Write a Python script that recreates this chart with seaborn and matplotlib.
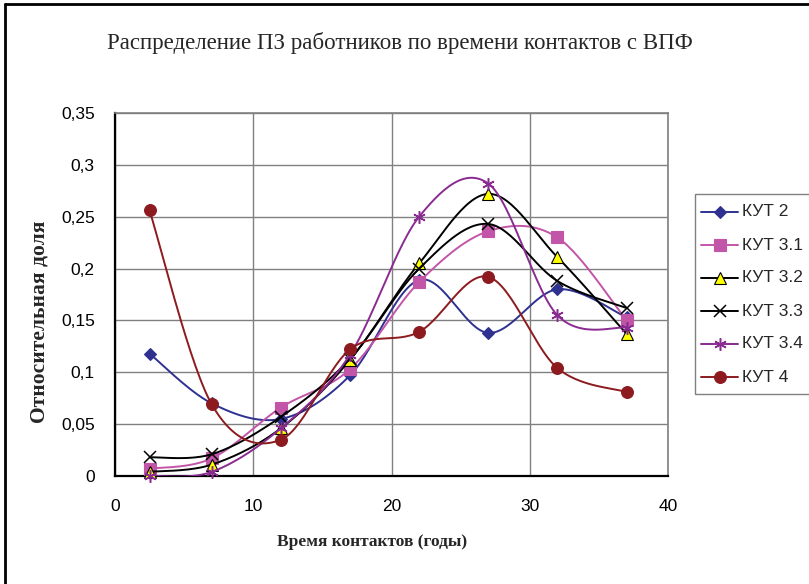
import numpy as np
import pandas as pd
import matplotlib
matplotlib.use("Agg")
import matplotlib.pyplot as plt
from matplotlib.lines import Line2D
from matplotlib.patches import Rectangle
from matplotlib.ticker import FuncFormatter
import seaborn as sns

x_years = [2.5, 7, 12, 17, 22, 27, 32, 37]
series_names = ["КУТ 2", "КУТ 3.1", "КУТ 3.2", "КУТ 3.3", "КУТ 3.4", "КУТ 4"]
kut2 = [0.118, 0.070, 0.055, 0.097, 0.189, 0.138, 0.180, 0.153]
kut31 = [0.007, 0.017, 0.066, 0.103, 0.187, 0.236, 0.230, 0.150]
kut32 = [0.004, 0.011, 0.046, 0.112, 0.205, 0.272, 0.211, 0.137]
kut33 = [0.018, 0.021, 0.057, 0.113, 0.200, 0.243, 0.188, 0.162]
kut34 = [0.000, 0.004, 0.046, 0.117, 0.250, 0.282, 0.155, 0.143]
kut4 = [0.256, 0.069, 0.035, 0.122, 0.139, 0.192, 0.104, 0.081]
y_ticks = [0, 0.05, 0.1, 0.15, 0.2, 0.25, 0.3, 0.35]
x_ticks = [0, 10, 20, 30, 40]

title = "Распределение ПЗ работников по времени контактов с ВПФ"
xlabel = "Время контактов (годы)"
ylabel = "Относительная доля"

values = [kut2, kut31, kut32, kut33, kut34, kut4]
colors = ["#2e3190", "#c255a8", "#000000", "#000000", "#8a2b91", "#8c1a1e"]
markers = ["D", "s", "^", "x", (6, 2, 0), "o"]
msizes = [6, 8, 8, 8, 9, 8.5]
mfaces = ["#2e3190", "#c255a8", "#ffff00", "none", "none", "#8c1a1e"]
medges = ["#2e3190", "#c255a8", "#000000", "#000000", "#8a2b91", "#8c1a1e"]


def smooth(xs, ys, n=30):
    """Excel-like smoothed line: cubic Bezier with Catmull-Rom control points."""
    P = np.column_stack([xs, ys]).astype(float)
    out = []
    m = len(P)
    for i in range(m - 1):
        p0 = P[i - 1] if i > 0 else P[i]
        p1 = P[i]
        p2 = P[i + 1]
        p3 = P[i + 2] if i + 2 < m else P[i + 1]
        c1 = p1 + (p2 - p0) / 6.0
        c2 = p2 - (p3 - p1) / 6.0
        t = np.linspace(0, 1, n, endpoint=(i == m - 2))[:, None]
        b = ((1 - t) ** 3) * p1 + 3 * ((1 - t) ** 2) * t * c1 + 3 * (1 - t) * t ** 2 * c2 + t ** 3 * p2
        out.append(b)
    out = np.vstack(out)
    return out[:, 0], out[:, 1]


sns.set_theme(style="white")
plt.rcParams["font.family"] = ["Liberation Sans", "DejaVu Sans"]

W, H = 809, 584
fig = plt.figure(figsize=(W / 100, H / 100), dpi=100)
ax = fig.add_axes([115 / W, 1 - 476 / H, 553 / W, 363 / H])

for k, (name, ys) in enumerate(zip(series_names, values)):
    sx, sy = smooth(x_years, ys)
    df = pd.DataFrame({"x": sx, "y": sy})
    sns.lineplot(data=df, x="x", y="y", color=colors[k], lw=1.4, sort=False,
                 estimator=None, ax=ax, zorder=3 + k)
    ax.plot(x_years, ys, linestyle="none", marker=markers[k], ms=msizes[k],
            mfc=mfaces[k], mec=medges[k], mew=1.1 if k in (3, 4) else 0.8,
            zorder=3 + k, clip_on=False)

ax.set_xlim(0, 40)
ax.set_ylim(0, 0.35)
ax.set_xticks(x_ticks)
ax.set_yticks(y_ticks)
ax.yaxis.set_major_formatter(FuncFormatter(lambda v, p: f"{v:g}".replace(".", ",")))
ax.grid(True, color="#808080", lw=1.0)
ax.set_axisbelow(True)
for s in ["top", "right"]:
    ax.spines[s].set_color("#808080")
    ax.spines[s].set_linewidth(1.2)
for s in ["left", "bottom"]:
    ax.spines[s].set_color("#000000")
    ax.spines[s].set_linewidth(1.6)
ax.tick_params(axis="both", which="major", direction="out", length=4.5, width=1,
               color="#808080", labelsize=12.5, labelcolor="black")
ax.tick_params(axis="x", pad=12)
ax.tick_params(axis="y", pad=10)
ax.set_xlabel("")
ax.set_ylabel("")

serif = ["Liberation Serif", "DejaVu Serif"]
fig.text(400 / W, 1 - 43 / H, title, ha="center", va="center", family=serif, fontsize=16.5)
fig.text(372 / W, 1 - 542 / H, xlabel, ha="center", va="center",
         family=serif, fontsize=12.5, fontweight="bold")
fig.text(40 / W, 1 - 322 / H, ylabel, ha="center", va="center", rotation=90,
         family=serif, fontsize=15.5, fontweight="bold")

# legend drawn by hand at fixed positions
fig.add_artist(Rectangle((695 / W, 1 - 394 / H), 125 / W, 200 / H, transform=fig.transFigure,
                         facecolor="white", edgecolor="#808080", lw=1.0, zorder=5))
for k, name in enumerate(series_names):
    yy = 1 - (212 + 33 * k) / H
    fig.add_artist(Line2D([701 / W, 738 / W], [yy, yy], color=colors[k], lw=1.4,
                          transform=fig.transFigure, zorder=6))
    fig.add_artist(Line2D([719.5 / W], [yy], linestyle="none", marker=markers[k],
                          ms=msizes[k], mfc=mfaces[k], mec=medges[k],
                          mew=1.1 if k in (3, 4) else 0.8,
                          transform=fig.transFigure, zorder=7))
    fig.text(742 / W, yy, name, ha="left", va="center", fontsize=12.5, zorder=8)

# outer chart frame
fig.add_artist(Line2D([5 / W, 1.0], [1 - 4 / H, 1 - 4 / H], color="black", lw=2,
                      transform=fig.transFigure))
fig.add_artist(Line2D([5 / W, 5 / W], [0.0, 1 - 4 / H], color="black", lw=2,
                      transform=fig.transFigure))

fig.savefig("out.png", dpi=100)
